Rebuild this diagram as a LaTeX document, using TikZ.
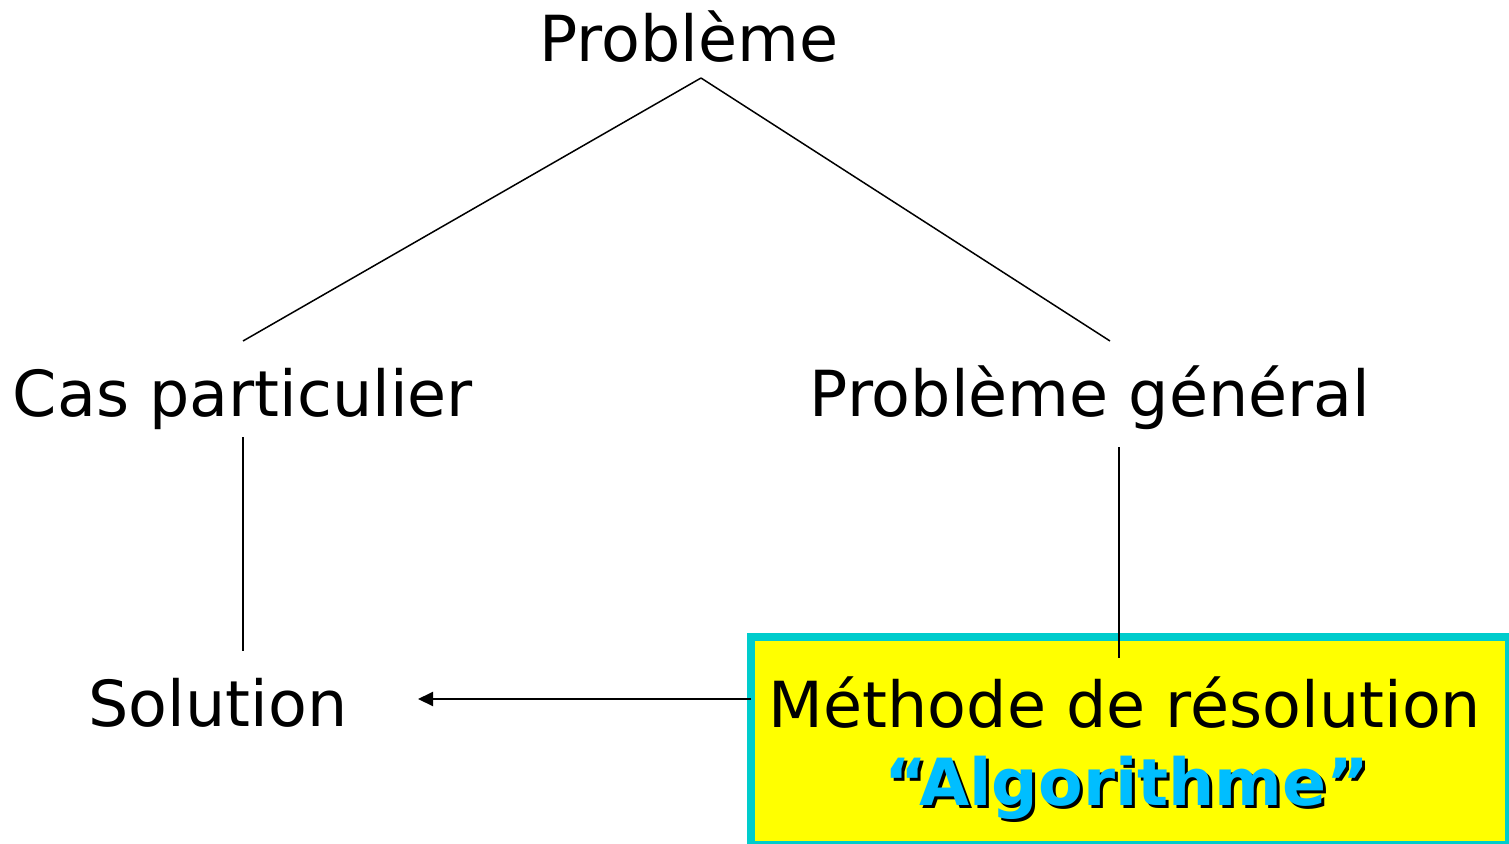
\documentclass[tikz,border=0pt]{standalone}
\usepackage{fontspec}
\setmainfont{DejaVu Sans}
\usetikzlibrary{arrows.meta}
\definecolor{boxcyan}{RGB}{0,204,204}
\definecolor{boxyellow}{RGB}{255,255,0}
\definecolor{algoblue}{RGB}{0,190,255}
\begin{document}
\begin{tikzpicture}[x=1pt,y=-1pt,
  lbl/.style={anchor=base,inner sep=0pt,font=\fontsize{63.5}{76}\selectfont},
  algolbl/.style={anchor=base,inner sep=0pt,font=\fontsize{65}{78}\selectfont\bfseries},
  conn/.style={line width=1.5pt,black},
  arr/.style={line width=2pt,black,-{Triangle[length=15pt,width=14pt]}}]
\useasboundingbox (0,0) rectangle (1509,843);
\clip (0,0) rectangle (1509,843);
% box
\draw[line width=7.5pt,draw=boxcyan,fill=boxyellow] (751,637) rectangle (1509,845);
% texts
\node[lbl] (prob) at (689,62) {Problème};
\node[lbl] (cas) at (243,416) {Cas particulier};
\node[lbl] (gen) at (1090,416) {Problème général};
\node[lbl] (sol) at (218,726) {Solution};
\node[lbl] (meth) at (1125,727) {Méthode de résolution};
\node[algolbl,text=black] (algoshadow) at (1130,808) {“Algorithme”};
\node[algolbl,text=algoblue] (algo) at (1127,805) {“Algorithme”};
% connector end points
\coordinate (probB) at (701,78);
\coordinate (casT) at (243,341);
\coordinate (genT) at (1110,341);
\coordinate (casB) at (243,437);
\coordinate (solT) at (243,651);
\coordinate (genB) at (1119,447);
\coordinate (methT) at (1119,658);
\coordinate (methL) at (751,699);
\coordinate (solR) at (418,699);
\draw[conn] (probB) -- (casT);
\draw[conn] (probB) -- (genT);
\draw[conn] (casB) -- (solT);
\draw[conn] (genB) -- (methT);
\draw[arr] (methL) -- (solR);
\end{tikzpicture}
\end{document}
